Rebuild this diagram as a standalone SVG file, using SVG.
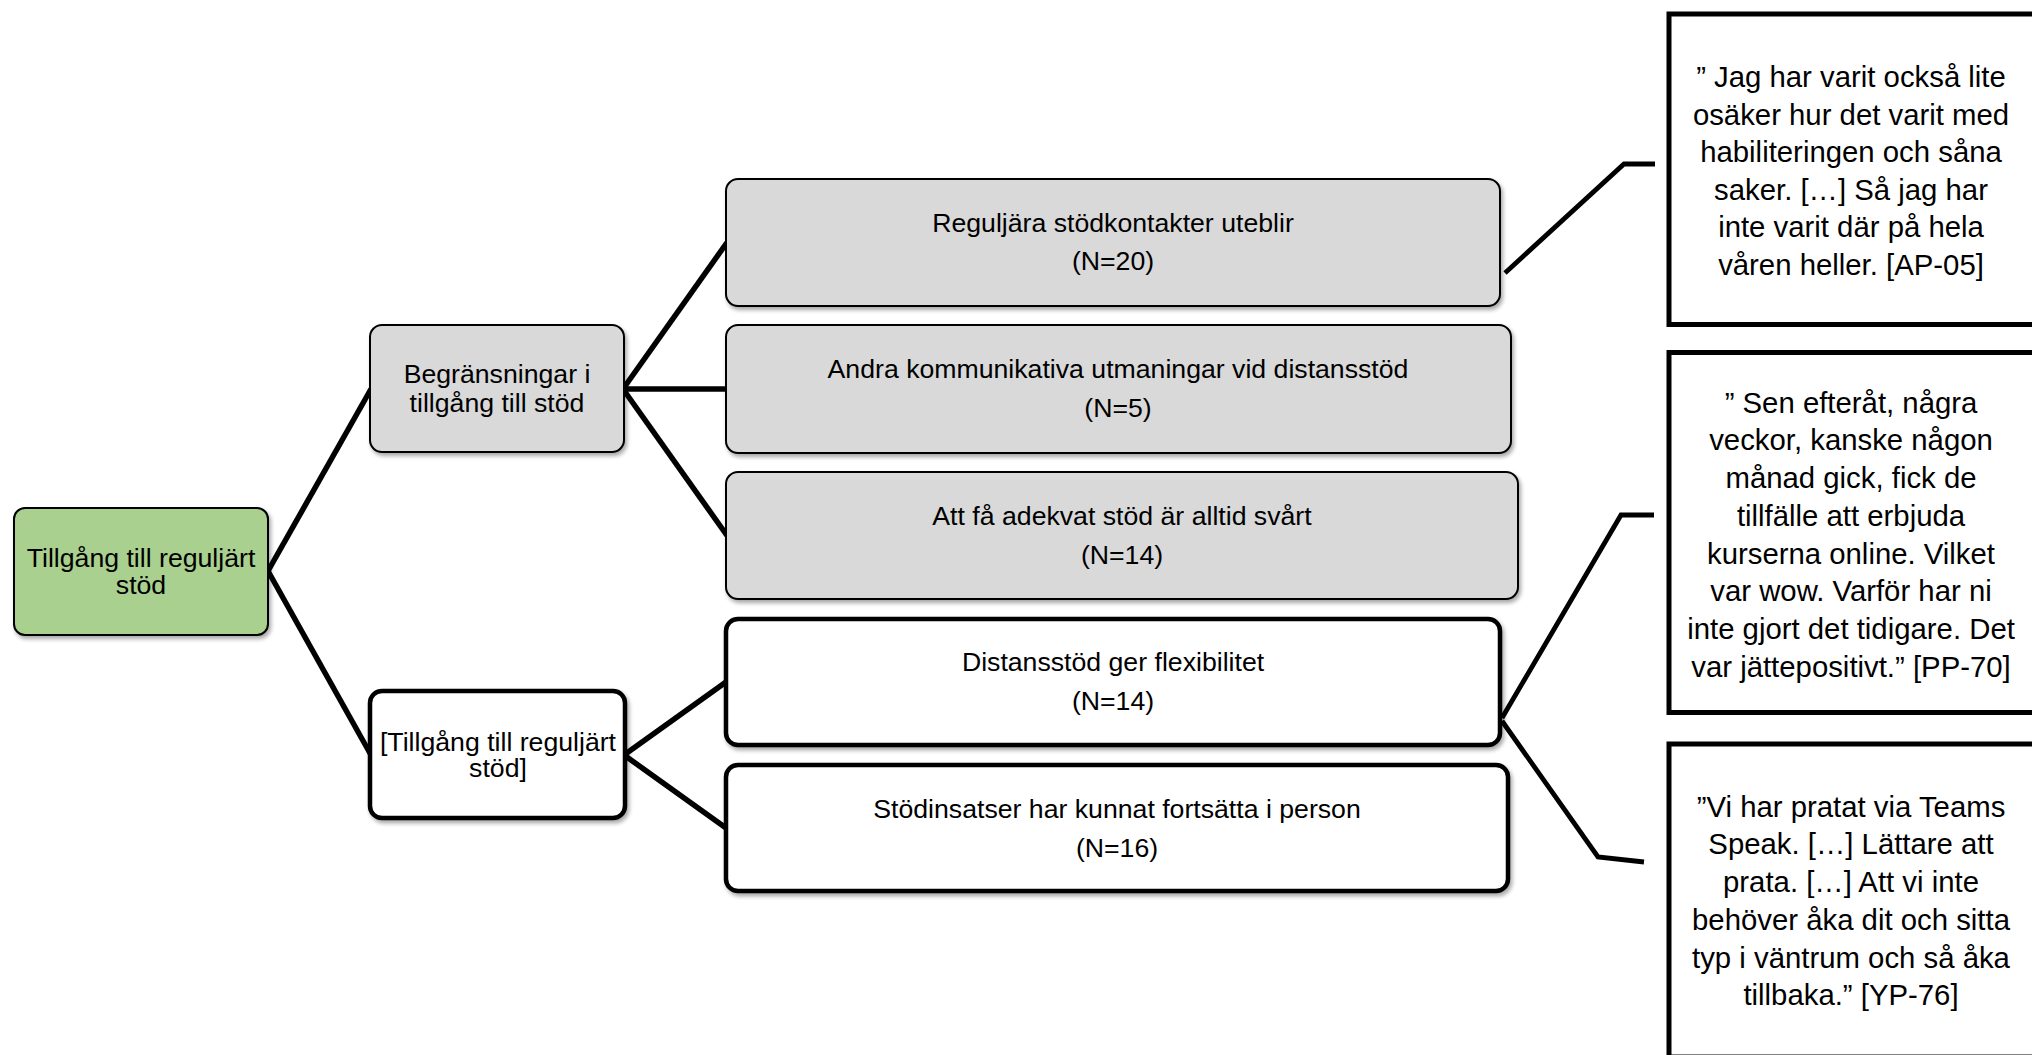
<svg xmlns="http://www.w3.org/2000/svg" width="2032" height="1055" viewBox="0 0 2032 1055">
<defs>
<filter id="sh" x="-5%" y="-10%" width="115%" height="130%">
<feGaussianBlur in="SourceAlpha" stdDeviation="2"/>
<feOffset dx="2" dy="3" result="o"/>
<feComponentTransfer><feFuncA type="linear" slope="0.35"/></feComponentTransfer>
<feMerge><feMergeNode/><feMergeNode in="SourceGraphic"/></feMerge>
</filter>
</defs>
<style>
.t{font-family:"Liberation Sans",Arial,sans-serif;font-size:26.67px;fill:#000;text-anchor:middle}
.q{font-family:"Liberation Sans",Arial,sans-serif;font-size:29.33px;fill:#000;text-anchor:middle}
.grey{fill:#d9d9d9;stroke:#000;stroke-width:2}
.green{fill:#a9d08e;stroke:#000;stroke-width:2}
.white{fill:#fff;stroke:#000;stroke-width:4.5}
.quote{fill:#fff;stroke:#000;stroke-width:5}
.c{fill:none;stroke:#000;stroke-width:5.5;stroke-linejoin:miter}
.cq{fill:none;stroke:#000;stroke-width:4.8;stroke-linejoin:miter}
</style>
<rect width="2032" height="1055" fill="#fff"/>
<g id="connectors">
<line class="c" x1="268" y1="571" x2="371" y2="389"/>
<line class="c" x1="268" y1="571" x2="371" y2="755"/>
<line class="c" x1="623" y1="389" x2="727" y2="242.5"/>
<line class="c" x1="623" y1="389" x2="727" y2="389"/>
<line class="c" x1="623" y1="389" x2="727" y2="535.5"/>
<line class="c" x1="624" y1="755" x2="726" y2="682"/>
<line class="c" x1="624" y1="755" x2="726" y2="828"/>
<polyline class="cq" points="1505,273 1624,164 1655,164"/>
<polyline class="cq" points="1502,718 1621,515 1654,515"/>
<polyline class="cq" points="1502,721 1598,857 1644,862"/>
</g>
<g id="node-root">
<rect class="green" x="14" y="508" width="254" height="127" rx="11" filter="url(#sh)"/>
<text class="t" x="141" y="567">Tillgång till reguljärt</text>
<text class="t" x="141" y="594">stöd</text>
</g>
<g id="node-begransningar">
<rect class="grey" x="370" y="325" width="254" height="127" rx="12" filter="url(#sh)"/>
<text class="t" x="497" y="383">Begränsningar i</text>
<text class="t" x="497" y="412">tillgång till stöd</text>
</g>
<g id="node-tillgang">
<rect class="white" x="370" y="691" width="255" height="127" rx="12" filter="url(#sh)"/>
<text class="t" x="498" y="751">[Tillgång till reguljärt</text>
<text class="t" x="498" y="777">stöd]</text>
</g>
<g id="node-reguljara">
<rect class="grey" x="726" y="179" width="774" height="127" rx="12" filter="url(#sh)"/>
<text class="t" x="1113" y="232">Reguljära stödkontakter uteblir</text>
<text class="t" x="1113" y="270">(N=20)</text>
</g>
<g id="node-andra">
<rect class="grey" x="726" y="325" width="785" height="128" rx="12" filter="url(#sh)"/>
<text class="t" x="1118" y="378">Andra kommunikativa utmaningar vid distansstöd</text>
<text class="t" x="1118" y="417">(N=5)</text>
</g>
<g id="node-att-fa">
<rect class="grey" x="726" y="472" width="792" height="127" rx="12" filter="url(#sh)"/>
<text class="t" x="1122" y="525">Att få adekvat stöd är alltid svårt</text>
<text class="t" x="1122" y="564">(N=14)</text>
</g>
<g id="node-distansstod">
<rect class="white" x="726" y="619" width="774" height="126" rx="12" filter="url(#sh)"/>
<text class="t" x="1113" y="671">Distansstöd ger flexibilitet</text>
<text class="t" x="1113" y="710">(N=14)</text>
</g>
<g id="node-stodinsatser">
<rect class="white" x="726" y="765" width="782" height="126" rx="12" filter="url(#sh)"/>
<text class="t" x="1117" y="818">Stödinsatser har kunnat fortsätta i person</text>
<text class="t" x="1117" y="857">(N=16)</text>
</g>
<g id="quote-ap05">
<rect class="quote" x="1669" y="14" width="380" height="310.5"/>
<text class="q" x="1851" y="87">” Jag har varit också lite</text>
<text class="q" x="1851" y="124.6">osäker hur det varit med</text>
<text class="q" x="1851" y="162.2">habiliteringen och såna</text>
<text class="q" x="1851" y="199.8">saker. […] Så jag har</text>
<text class="q" x="1851" y="237.4">inte varit där på hela</text>
<text class="q" x="1851" y="275">våren heller. [AP-05]</text>
</g>
<g id="quote-pp70">
<rect class="quote" x="1669" y="352.5" width="380" height="360"/>
<text class="q" x="1851" y="412.7">” Sen efteråt, några</text>
<text class="q" x="1851" y="450.4">veckor, kanske någon</text>
<text class="q" x="1851" y="488.1">månad gick, fick de</text>
<text class="q" x="1851" y="525.8">tillfälle att erbjuda</text>
<text class="q" x="1851" y="563.5">kurserna online. Vilket</text>
<text class="q" x="1851" y="601.2">var wow. Varför har ni</text>
<text class="q" x="1851" y="638.9">inte gjort det tidigare. Det</text>
<text class="q" x="1851" y="676.6">var jättepositivt.” [PP-70]</text>
</g>
<g id="quote-yp76">
<rect class="quote" x="1669" y="744" width="380" height="313"/>
<text class="q" x="1851" y="816.7">”Vi har pratat via Teams</text>
<text class="q" x="1851" y="854.4">Speak. […] Lättare att</text>
<text class="q" x="1851" y="892.1">prata. […] Att vi inte</text>
<text class="q" x="1851" y="929.8">behöver åka dit och sitta</text>
<text class="q" x="1851" y="967.5">typ i väntrum och så åka</text>
<text class="q" x="1851" y="1005.2">tillbaka.” [YP-76]</text>
</g>
</svg>
